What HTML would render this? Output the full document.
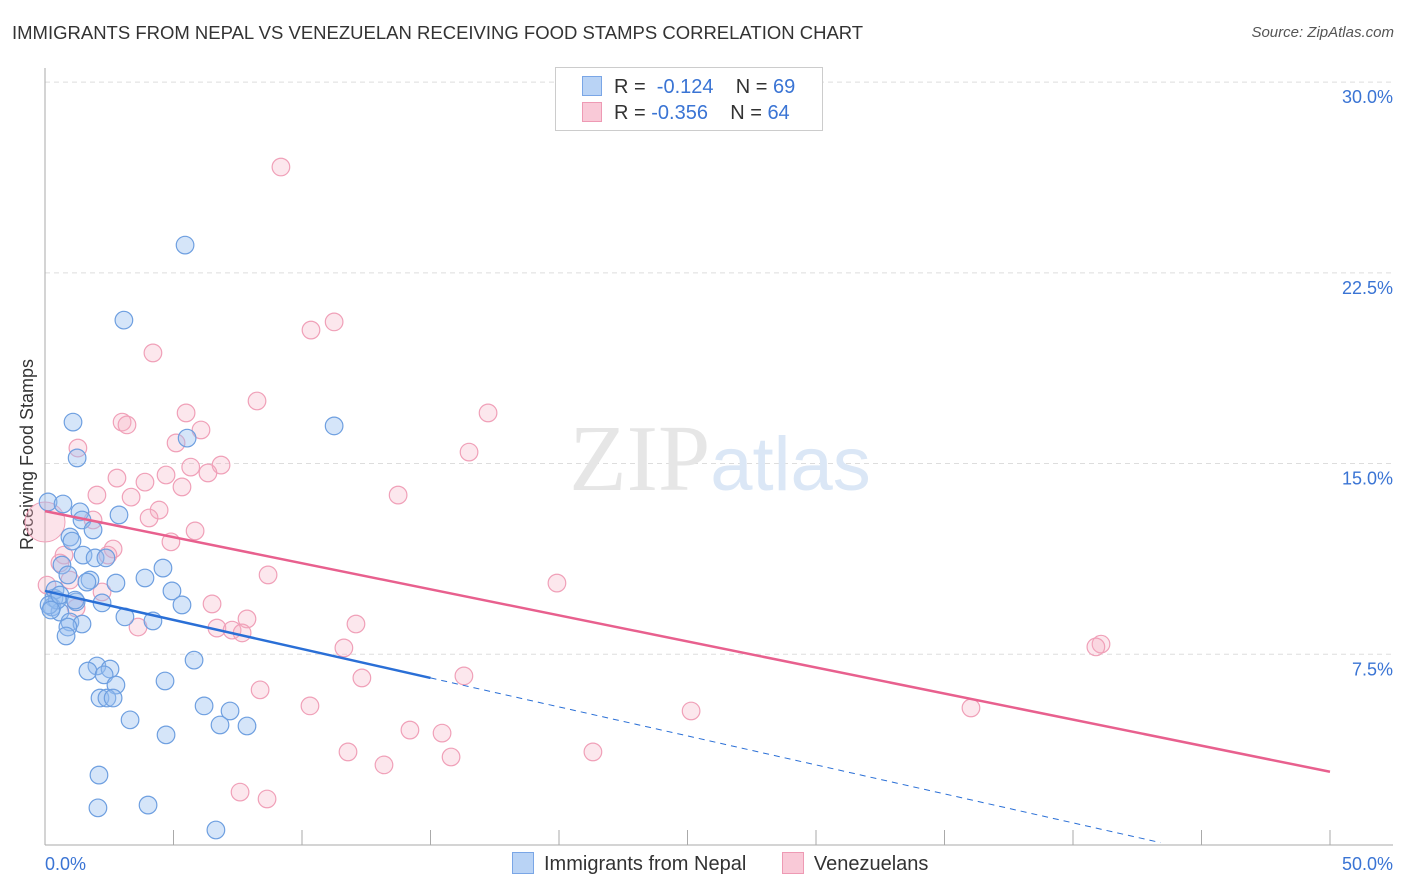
<!DOCTYPE html>
<html><head><meta charset="utf-8"><style>
body{margin:0;background:#fff;font-family:"Liberation Sans",sans-serif;}
#wrap{position:relative;width:1406px;height:892px;overflow:hidden;}
.t{position:absolute;white-space:nowrap;}
</style></head><body>
<div id="wrap">
<div class="t" style="left:12px;top:22px;font-size:18.5px;color:#333;">IMMIGRANTS FROM NEPAL VS VENEZUELAN RECEIVING FOOD STAMPS CORRELATION CHART</div>
<div class="t" style="right:12px;top:24px;font-size:15px;color:#555;font-style:italic;">Source: ZipAtlas.com</div>
<div class="t" style="left:-68px;top:444px;font-size:18px;color:#333;transform:rotate(-90deg);">Receiving Food Stamps</div>
<svg id="svg" width="1406" height="892" style="position:absolute;left:0;top:0"></svg>
<div style="position:absolute;left:555px;top:67px;width:266px;height:62px;border:1px solid #ccc;background:#fff;font-size:20px;color:#333;">
 <div style="position:absolute;left:26px;top:8px;"><span style="display:inline-block;width:18px;height:18px;background:#b9d3f5;border:1px solid #7aa6e6;vertical-align:-3px;margin-right:12px;"></span>R = &nbsp;<span style="color:#3a74d4">-0.124</span>&nbsp;&nbsp;&nbsp; N = <span style="color:#3a74d4">69</span></div>
 <div style="position:absolute;left:26px;top:34px;"><span style="display:inline-block;width:18px;height:18px;background:#f9c9d7;border:1px solid #ee9ab4;vertical-align:-3px;margin-right:12px;"></span>R = <span style="color:#3a74d4">-0.356</span>&nbsp;&nbsp;&nbsp; N = <span style="color:#3a74d4">64</span></div>
</div>
<div style="position:absolute;left:512px;top:852px;font-size:20px;color:#333;">
 <span><span style="display:inline-block;width:20px;height:20px;background:#b9d3f5;border:1px solid #7aa6e6;vertical-align:-4px;margin-right:10px;"></span>Immigrants from Nepal</span>
 <span style="margin-left:30px;"><span style="display:inline-block;width:20px;height:20px;background:#f9c9d7;border:1px solid #ee9ab4;vertical-align:-4px;margin-right:10px;"></span>Venezuelans</span>
</div>
</div>
<script>
const yTicks=[7.5,15,22.5,30];
const yTickLabels=["7.5%","15.0%","22.5%","30.0%"];
const xTickVals=[0,5,10,15,20,25,30,35,40,45,50];
const nepalX=[5.45,3.07,1.09,11.25,1.25,5.53,0.12,0.70,2.88,1.36,1.44,1.87,0.97,1.05,1.48,1.95,2.37,0.66,0.89,1.75,1.63,2.76,3.89,4.59,4.94,5.33,2.22,1.21,0.35,0.27,0.58,0.97,1.44,0.89,0.82,3.11,4.20,5.80,2.02,2.53,1.67,2.30,2.76,4.67,2.14,2.41,2.65,6.19,7.20,3.31,6.81,7.86,4.71,2.10,2.06,4.01,6.65,0.39,0.47,0.16,0.23,0.58,1.17];
const nepalY=[23.59,20.64,16.63,16.48,15.22,16.0,13.49,13.41,12.98,13.10,12.78,12.39,12.11,11.95,11.40,11.29,11.29,11.01,10.62,10.42,10.34,10.30,10.50,10.89,9.99,9.44,9.52,9.56,9.71,9.36,9.16,8.77,8.69,8.57,8.22,8.97,8.81,7.27,7.04,6.92,6.84,6.69,6.29,6.45,5.78,5.78,5.78,5.47,5.27,4.92,4.72,4.68,4.33,2.75,1.46,1.57,0.59,10.03,9.63,9.44,9.24,9.83,9.63];
const venX=[9.18,11.25,10.35,4.20,8.25,17.24,3.00,3.19,5.49,6.07,5.10,1.28,16.50,5.67,6.85,4.71,2.80,6.34,3.89,5.33,2.02,3.35,13.74,4.44,4.05,1.87,5.84,4.90,2.65,2.45,0.74,0.58,8.68,0.97,19.92,0.08,2.22,6.50,1.21,7.86,12.10,6.69,7.28,7.67,3.62,11.63,41.09,40.89,16.30,12.33,8.37,10.31,25.14,36.03,14.20,15.45,11.79,15.80,21.32,13.19,7.59,8.64];
const venY=[26.66,20.57,20.25,19.35,17.46,16.99,16.63,16.52,16.99,16.32,15.81,15.61,15.45,14.86,14.94,14.55,14.43,14.63,14.27,14.08,13.76,13.68,13.76,13.17,12.86,12.78,12.35,11.92,11.64,11.40,11.40,11.09,10.62,10.42,10.30,10.22,9.95,9.48,9.32,8.89,8.69,8.53,8.45,8.34,8.57,7.75,7.90,7.79,6.65,6.57,6.10,5.47,5.27,5.39,4.52,4.40,3.66,3.46,3.66,3.15,2.08,1.81];
const nepalTrend=[9.99,-0.228];
const venTrend=[13.13,-0.205];
const X=v=>45+v*25.7, Y=v=>845-v*25.43;
const svg=document.getElementById('svg');const NS='http://www.w3.org/2000/svg';
function mk(t,a){const e=document.createElementNS(NS,t);for(const k in a)e.setAttribute(k,a[k]);svg.appendChild(e);return e;}
yTicks.forEach((v,i)=>{
 const g=mk('line',{x1:45,x2:1393,y1:Y(v),y2:Y(v),stroke:'#ddd','stroke-dasharray':'5,4'});
 
 
 const t=mk('text',{x:1393,y:Y(v)+21,'text-anchor':'end','font-size':18,fill:'#3a74d4','font-family':'Liberation Sans'});
 t.textContent=yTickLabels[i];
 
 
});
const ax=mk('line',{x1:45,x2:45,y1:68,y2:845,stroke:'#aaa'});


const bx=mk('line',{x1:45,x2:1393,y1:845,y2:845,stroke:'#aaa'});


xTickVals.forEach(v=>{const l=mk('line',{x1:X(v),x2:X(v),y1:830,y2:845,stroke:'#aaa'});
 
 });
[[0,'0.0%',45,'start'],[50,'50.0%',1393,'end']].forEach(a=>{const t=mk('text',{x:a[2],y:870,'text-anchor':a[3],'font-size':18,fill:'#3a74d4','font-family':'Liberation Sans'});t.textContent=a[1];
 
 });
const wm=mk('text',{x:720,y:490,'text-anchor':'middle','font-size':94,'font-family':'Liberation Serif',fill:'#e6e6e6'});
wm.innerHTML='ZIP<tspan fill="#dbe7f6" font-family="Liberation Sans" font-size="76">atlas</tspan>';


const big=mk('circle',{cx:X(0),cy:Y(12.7),r:20,fill:'rgba(245,175,195,0.35)',stroke:'#f0a0b8'});


venX.forEach((x,i)=>{const c=mk('circle',{cx:X(x),cy:Y(venY[i]),r:8.8,fill:'rgba(245,175,195,0.3)',stroke:'#f0a0b8','stroke-width':1.2});
 
 });
nepalX.forEach((x,i)=>{const c=mk('circle',{cx:X(x),cy:Y(nepalY[i]),r:8.8,fill:'rgba(150,190,240,0.4)',stroke:'#6e9fe0','stroke-width':1.2});
 
 });
const pl=mk('line',{x1:X(0),y1:Y(venTrend[0]),x2:X(50),y2:Y(venTrend[0]+venTrend[1]*50),stroke:'#e8608e','stroke-width':2.5});


const bl=mk('line',{x1:X(0),y1:Y(nepalTrend[0]),x2:X(15),y2:Y(nepalTrend[0]+nepalTrend[1]*15),stroke:'#2a6fd6','stroke-width':2.5});


const bd=mk('line',{x1:X(15),y1:Y(nepalTrend[0]+nepalTrend[1]*15),x2:X(43.4),y2:Y(nepalTrend[0]+nepalTrend[1]*43.4),stroke:'#2a6fd6','stroke-width':1,'stroke-dasharray':'6,5'});


</script>
</body></html>
